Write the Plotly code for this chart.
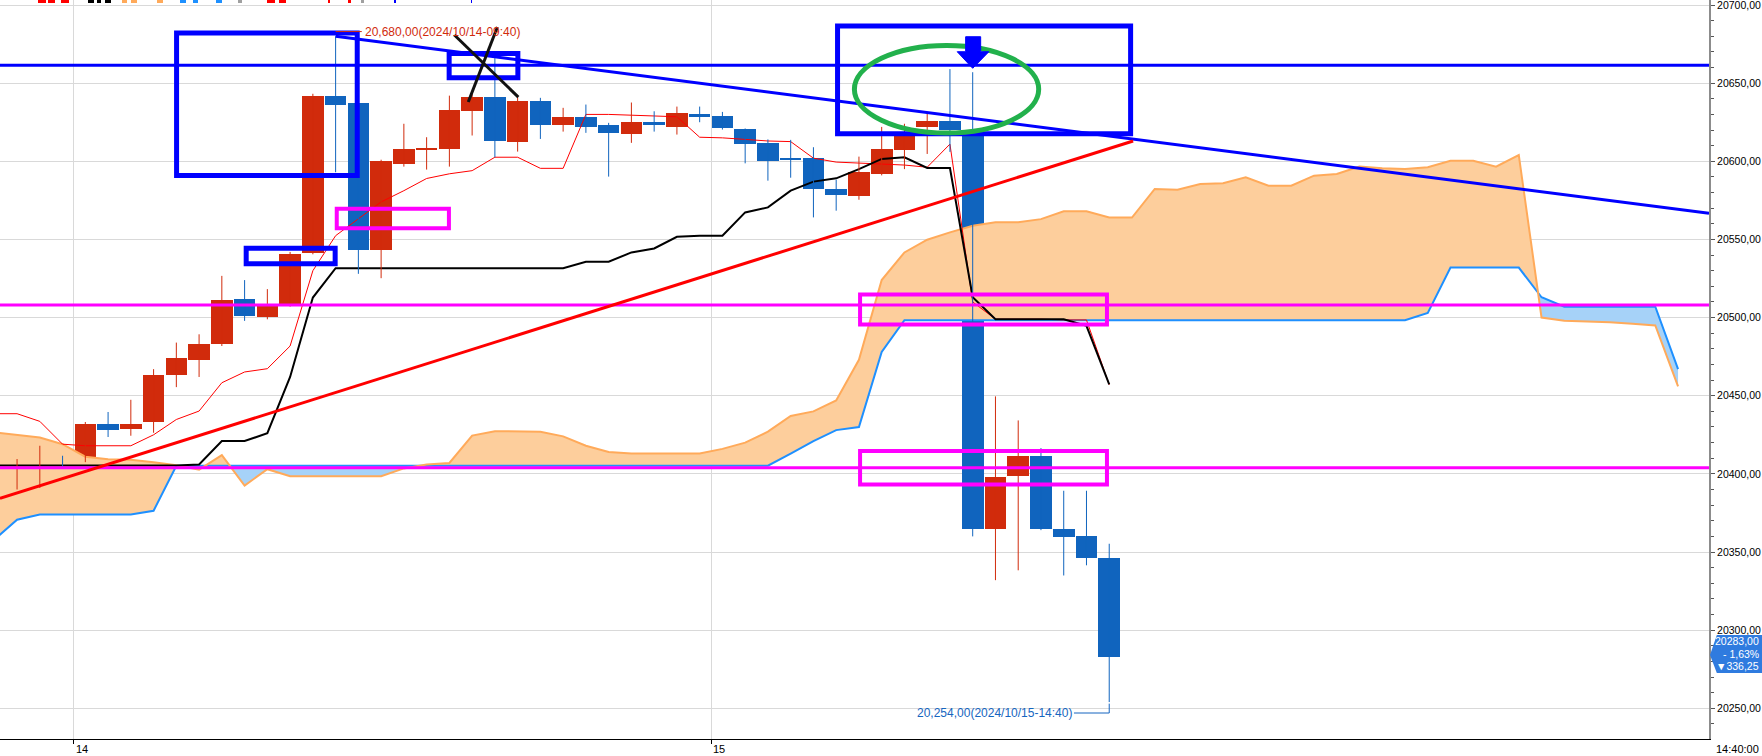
import plotly.graph_objects as go

# ---------------- data (15-min bars, index k) ----------------
bar_idx = list(range(-1, 49))
opens = [20410.6, 20396.3, 20403.0, 20409.5, 20408.0, 20432.0, 20429.0, 20433.0, 20463.0, 20473.0,
         20483.0, 20512.0, 20500.5, 20508.0, 20541.5, 20642.0, 20637.0, 20543.0, 20598.0, 20607.5,
         20608.0, 20632.0, 20641.0, 20612.6, 20638.7, 20623.0, 20628.4, 20623.3, 20617.7, 20625.4,
         20622.2, 20630.3, 20629.0, 20620.7, 20612.0, 20601.5, 20602.0, 20582.3, 20578.0, 20592.0,
         20607.3, 20621.8, 20625.5, 20620.0, 20364.5, 20398.4, 20411.6, 20365.0, 20360.4, 20346.0]
highs = [20412.0, 20409.5, 20418.0, 20411.6, 20433.2, 20439.6, 20447.4, 20467.0, 20484.0, 20489.3,
         20526.7, 20524.0, 20518.2, 20542.0, 20643.2, 20680.0, 20637.0, 20601.0, 20624.0, 20615.4,
         20642.0, 20644.0, 20666.0, 20641.0, 20640.6, 20634.2, 20636.3, 20624.6, 20637.6, 20632.0,
         20635.0, 20635.0, 20631.6, 20621.0, 20614.0, 20613.7, 20609.0, 20588.2, 20603.0, 20622.0,
         20624.0, 20631.0, 20659.0, 20657.0, 20449.6, 20434.2, 20416.5, 20389.2, 20389.2, 20355.3]
lows = [20394.0, 20390.0, 20391.0, 20404.4, 20407.5, 20423.6, 20424.4, 20426.3, 20455.5, 20462.0,
        20481.8, 20497.9, 20498.9, 20507.0, 20540.5, 20593.0, 20528.0, 20525.2, 20596.6, 20594.7,
        20596.6, 20616.5, 20602.5, 20606.2, 20614.3, 20619.0, 20618.2, 20590.2, 20611.8, 20619.0,
        20617.1, 20625.0, 20620.3, 20598.7, 20587.6, 20589.5, 20564.1, 20568.4, 20575.4, 20591.0,
        20595.0, 20604.7, 20606.0, 20360.0, 20332.0, 20338.3, 20364.0, 20335.0, 20341.5, 20254.0]
closes = [20396.3, 20402.7, 20410.0, 20408.0, 20432.0, 20428.3, 20432.0, 20463.5, 20474.0, 20483.0,
          20511.0, 20501.0, 20508.0, 20541.0, 20642.0, 20636.0, 20543.0, 20600.0, 20608.0, 20608.5,
          20633.0, 20641.0, 20613.0, 20638.7, 20623.5, 20628.4, 20622.2, 20618.4, 20625.4, 20623.3,
          20631.0, 20628.6, 20621.0, 20611.0, 20600.0, 20601.0, 20582.3, 20578.4, 20593.0, 20608.0,
          20618.2, 20625.6, 20620.2, 20365.0, 20398.2, 20411.6, 20364.5, 20359.4, 20346.0, 20283.0]

# conversion line (thin red) and base line (black)
conv_line = [20438.5, 20438.5, 20433.6, 20419.0, 20418.0, 20418.0, 20418.0, 20425.0, 20434.8, 20440.2,
             20458.3, 20465.2, 20467.3, 20481.8, 20530.0, 20552.4, 20563.0, 20574.0, 20581.2, 20589.0,
             20592.0, 20594.0, 20602.6, 20602.6, 20595.5, 20595.5, 20630.0, 20630.0, 20629.5, 20629.0,
             20628.5, 20615.4, 20615.0, 20614.0, 20613.0, 20612.6, 20602.0, 20599.5, 20599.0, 20598.5,
             20597.6, 20596.2, 20611.0, 20510.0, 20499.0, 20499.0, 20499.0, 20498.5, 20498.5, 20457.0]
base_line = [20405.3, 20405.3, 20405.3, 20405.3, 20405.3, 20405.3, 20405.3, 20405.3, 20405.3, 20406.0,
             20421.0, 20421.0, 20426.0, 20462.0, 20512.8, 20531.6, 20531.6, 20531.6, 20531.6, 20531.6,
             20531.6, 20531.6, 20531.6, 20531.6, 20531.6, 20531.6, 20535.7, 20535.7, 20541.7, 20544.2,
             20551.7, 20552.4, 20552.4, 20567.3, 20570.5, 20581.2, 20587.0, 20589.1, 20595.0, 20601.5,
             20602.6, 20595.7, 20595.7, 20513.0, 20499.0, 20499.0, 20499.0, 20498.9, 20494.7, 20457.3]

# leading spans (cloud), index k = -1 .. 73
cloud_idx = list(range(-1, 74))
span_orange = [20426.5, 20425.0, 20423.3, 20419.0, 20411.0, 20409.3, 20409.0, 20407.5, 20405.5, 20402.7,
               20412.0, 20392.5, 20403.0, 20398.5, 20398.5, 20398.5, 20398.5, 20398.5, 20403.5, 20406.0,
               20407.0, 20424.5, 20427.3, 20427.3, 20427.0, 20424.0, 20418.0, 20414.0, 20413.0, 20413.0,
               20413.0, 20413.0, 20416.0, 20420.0, 20427.0, 20437.0, 20440.0, 20447.0, 20473.0, 20524.0,
               20541.7, 20549.8, 20554.5, 20558.8, 20561.0, 20561.0, 20563.0, 20568.0, 20568.0, 20564.0,
               20564.0, 20582.3, 20581.8, 20585.5, 20586.0, 20589.7, 20584.4, 20584.4, 20590.8, 20591.9,
               20596.6, 20595.5, 20595.0, 20596.2, 20600.4, 20600.4, 20596.6, 20604.0, 20500.0, 20498.0,
               20497.5, 20497.0, 20496.0, 20495.0, 20456.0]
span_blue = [20358.0, 20370.7, 20374.0, 20374.0, 20374.0, 20374.0, 20374.0, 20376.4, 20405.2, 20405.2,
             20405.2, 20405.2, 20405.2, 20405.2, 20405.2, 20405.2, 20405.2, 20405.2, 20405.2, 20405.2,
             20405.2, 20405.2, 20405.2, 20405.2, 20405.2, 20405.2, 20405.2, 20405.2, 20405.2, 20405.2,
             20405.2, 20405.2, 20405.2, 20405.2, 20405.2, 20413.0, 20421.0, 20428.0, 20430.0, 20478.0,
             20498.3, 20498.3, 20498.3, 20498.3, 20498.3, 20498.3, 20498.3, 20498.3, 20498.3, 20498.3,
             20498.3, 20498.3, 20498.3, 20498.3, 20498.3, 20498.3, 20498.3, 20498.3, 20498.3, 20498.3,
             20498.3, 20498.3, 20498.3, 20503.0, 20532.0, 20532.0, 20532.0, 20532.0, 20513.0, 20507.0,
             20507.0, 20507.0, 20507.0, 20507.0, 20467.0]

# axis ticks
price_ticks = [20250, 20300, 20350, 20400, 20450, 20500, 20550, 20600, 20650, 20700]
price_tick_text = ["20250,00", "20300,00", "20350,00", "20400,00", "20450,00",
                   "20500,00", "20550,00", "20600,00", "20650,00", "20700,00"]
day_pos = [2.5, 30.5]
day_text = ["14", "15"]
last_time = "14:40:00"

# hand-drawn markup (data coords: bar index, price)
hline_blue = [20661.5]
hline_magenta = [20508.0, 20404.0]
trend_blue = [(14.0, 20680.0), (74.36, 20566.7)]
trend_red = [(-0.75, 20384.3), (49.05, 20613.0)]
blue_boxes = [(7.01, 20590.9, 14.95, 20682.1), (10.07, 20534.4, 13.98, 20544.3),
              (18.99, 20653.5, 22.01, 20668.9), (36.06, 20617.6, 48.94, 20686.6)]
magenta_boxes = [(14.05, 20557.1, 18.98, 20569.7), (37.05, 20495.6, 47.9, 20514.8),
                 (37.05, 20393.2, 47.9, 20414.6)]
green_ellipse = (36.8, 20618.1, 44.9, 20674.1)
black_strokes = [((19.83, 20637.9), (21.11, 20685.9)), ((19.22, 20680.8), (22.03, 20641.1))]
arrow_down = [(41.69, 20679.7), (42.35, 20679.7), (42.35, 20670.1), (42.71, 20670.1),
              (42.0, 20659.5), (41.32, 20670.1), (41.69, 20670.1)]
high_label = "20,680,00(2024/10/14-09:40)"
high_label_price = 20683.0
low_label = "20,254,00(2024/10/15-14:40)"
low_label_price = 20247.0
last_box = ["20283,00", "- 1,63%", "▼336,25"]
# clipped legend strip at the very top (pixel x-ranges and colours)
legend_bits = [(38, 46, "#FF0000"), (48, 55, "#FF0000"), (61, 69, "#FF0000"),
               (88, 94, "#000000"), (97, 101, "#000000"), (105, 111, "#000000"),
               (122, 127, "#FFAA5A"), (131, 137, "#FFAA5A"), (157, 163, "#FFAA5A"),
               (180, 186, "#1E90FF"), (193, 198, "#1E90FF"), (216, 222, "#1E90FF"),
               (238, 242, "#A0A0A0"), (267, 275, "#FF0000"), (279, 286, "#FF0000"),
               (328, 330, "#FF0000"), (348, 351, "#FF0000"), (361, 364, "#A0A0A0"),
               (394, 396, "#0000FF"), (471, 472, "#0000FF")]

# ---------------- colours ----------------
UP = "#D12B0C"
DOWN = "#1064BE"
ORANGE = "#FFAA5A"
PEACH = "#FDCE9C"
SKY = "#1E90FF"
LIGHTSKY = "#A6D2F8"
FONT = "Liberation Sans, Arial, sans-serif"
PW, PH = 1709, 739

fig = go.Figure()

# ---------------- cloud fill polygons ----------------
def split_regions(xs, a, b):
    regions = []
    top, bot = [], []
    prev = None
    for i in range(len(xs)):
        d = a[i] - b[i]
        if prev is not None:
            pd_ = prev[1]
            if (pd_ > 0 and d < 0) or (pd_ < 0 and d > 0):
                t = pd_ / (pd_ - d)
                xc = xs[i - 1] + t * (xs[i] - xs[i - 1])
                yc = a[i - 1] + t * (a[i] - a[i - 1])
                top.append((xc, yc)); bot.append((xc, yc))
                regions.append((pd_ > 0, top, bot))
                top, bot = [(xc, yc)], [(xc, yc)]
        top.append((xs[i], a[i])); bot.append((xs[i], b[i]))
        if d != 0 or prev is None:
            prev = (i, d)
    regions.append((prev[1] > 0, top, bot))
    return regions

for pos, top, bot in split_regions(cloud_idx, span_orange, span_blue):
    pts = top + bot[::-1]
    fig.add_trace(go.Scatter(x=[p[0] for p in pts], y=[p[1] for p in pts], mode="lines",
                             fill="toself", fillcolor=PEACH if pos else LIGHTSKY,
                             line=dict(width=0), hoverinfo="skip", showlegend=False))

fig.add_trace(go.Scatter(x=cloud_idx, y=span_blue, mode="lines", line=dict(color=SKY, width=2),
                         showlegend=False))
fig.add_trace(go.Scatter(x=cloud_idx, y=span_orange, mode="lines", line=dict(color=ORANGE, width=2),
                         showlegend=False))

fig.add_trace(go.Scatter(x=bar_idx, y=conv_line, mode="lines", line=dict(color="#FF0000", width=1),
                         showlegend=False))
fig.add_trace(go.Scatter(x=bar_idx, y=base_line, mode="lines", line=dict(color="#000000", width=2),
                         showlegend=False))

# ---------------- candles ----------------
for up, col in ((True, UP), (False, DOWN)):
    wx, wy = [], []
    for k, o, h, l, c in zip(bar_idx, opens, highs, lows, closes):
        if (c >= o) == up:
            wx += [k, k, None]
            wy += [l, h, None]
    fig.add_trace(go.Scatter(x=wx, y=wy, mode="lines", line=dict(color=col, width=1),
                             showlegend=False, hoverinfo="skip"))
body_base = [min(o, c) for o, c in zip(opens, closes)]
body_len = [max(abs(c - o), 1.0) for o, c in zip(opens, closes)]
body_col = [UP if c >= o else DOWN for o, c in zip(opens, closes)]
fig.add_trace(go.Bar(x=bar_idx, y=body_len, base=body_base, width=0.95,
                     marker=dict(color=body_col, line=dict(width=0)), showlegend=False))

# ---------------- markup shapes ----------------
shapes = []
for p in hline_blue:
    shapes.append(dict(type="line", xref="paper", x0=0, x1=1, yref="y", y0=p, y1=p,
                       line=dict(color="#0000FF", width=3)))
for p in hline_magenta:
    shapes.append(dict(type="line", xref="paper", x0=0, x1=1, yref="y", y0=p, y1=p,
                       line=dict(color="#FF00FF", width=3)))
for (x0, y0), (x1, y1) in [trend_blue]:
    shapes.append(dict(type="line", x0=x0, y0=y0, x1=x1, y1=y1, line=dict(color="#0000FF", width=3)))
for (x0, y0), (x1, y1) in [trend_red]:
    shapes.append(dict(type="line", x0=x0, y0=y0, x1=x1, y1=y1, line=dict(color="#FF0000", width=3)))
for x0, y0, x1, y1 in blue_boxes:
    shapes.append(dict(type="rect", x0=x0, y0=y0, x1=x1, y1=y1, line=dict(color="#0000FF", width=5)))
for x0, y0, x1, y1 in magenta_boxes:
    shapes.append(dict(type="rect", x0=x0, y0=y0, x1=x1, y1=y1, line=dict(color="#FF00FF", width=4)))
x0, y0, x1, y1 = green_ellipse
shapes.append(dict(type="circle", x0=x0, y0=y0, x1=x1, y1=y1, line=dict(color="#22B14C", width=5)))
for (x0, y0), (x1, y1) in black_strokes:
    shapes.append(dict(type="line", x0=x0, y0=y0, x1=x1, y1=y1, line=dict(color="#111111", width=3)))
path = "M " + " L ".join(f"{x},{y}" for x, y in arrow_down) + " Z"
shapes.append(dict(type="path", path=path, fillcolor="#0000FF", line=dict(color="#0000FF", width=1)))

# high / low labels connectors
shapes.append(dict(type="line", x0=14.0, y0=high_label_price, x1=15.15, y1=high_label_price,
                   line=dict(color="#D12B0C", width=1)))
lk = bar_idx[-1]
shapes.append(dict(type="line", x0=46.45, y0=low_label_price, x1=lk, y1=low_label_price,
                   line=dict(color="#1565C0", width=1)))
shapes.append(dict(type="line", x0=lk, y0=low_label_price, x1=lk, y1=lows[-1] - 1,
                   line=dict(color="#1565C0", width=1)))

# clipped legend strip
for a, b, col in legend_bits:
    shapes.append(dict(type="rect", xref="paper", yref="paper", x0=a / PW, x1=b / PW,
                       y0=(PH - 3) / PH, y1=1.0, fillcolor=col, line=dict(width=0), layer="above"))

# current price box on the axis
bx0, bx1 = 1710 / PW, 1762 / PW
by0, by1 = (PH - 673) / PH, (PH - 635) / PH
bym = (PH - 655) / PH
shapes.append(dict(type="path", xref="paper", yref="paper",
                   path=f"M {bx0 + 0.004},{by1} L {bx1},{by1} L {bx1},{by0} L {bx0 + 0.004},{by0} "
                        f"L {bx0},{bym} Z",
                   fillcolor="#2F7BDF", line=dict(width=0), layer="above"))

annotations = []
annotations.append(dict(x=15.2, y=high_label_price, xref="x", yref="y", text=high_label, showarrow=False,
                        xanchor="left", yanchor="middle", font=dict(family=FONT, size=12, color="#D12B0C")))
annotations.append(dict(x=46.45, y=low_label_price, xref="x", yref="y", text=low_label, showarrow=False,
                        xanchor="right", yanchor="middle", font=dict(family=FONT, size=12, color="#1565C0")))
for pos, txt in zip(day_pos, day_text):
    annotations.append(dict(x=pos, y=0, xref="x", yref="paper", text=txt, showarrow=False,
                            xanchor="left", yanchor="top", xshift=0, yshift=-2,
                            font=dict(family=FONT, size=11, color="#000000")))
annotations.append(dict(x=1761 / PW, y=0, xref="paper", yref="paper", text=last_time, showarrow=False,
                        xanchor="right", yanchor="top", yshift=-2,
                        font=dict(family=FONT, size=11, color="#000000")))
for i, t in enumerate(last_box):
    annotations.append(dict(x=1761 / PW, y=(PH - (641 + 12.5 * i)) / PH, xref="paper", yref="paper", text=t,
                            showarrow=False, xanchor="right", yanchor="middle",
                            font=dict(family=FONT, size=10.5, color="#FFFFFF")))

fig.update_layout(
    width=1762, height=756,
    margin=dict(l=0, r=1762 - PW, t=0, b=756 - PH, autoexpand=False),
    plot_bgcolor="#FFFFFF", paper_bgcolor="#FFFFFF",
    showlegend=False, shapes=shapes, annotations=annotations,
    bargap=0, font=dict(family=FONT),
)
fig.update_xaxes(range=[-0.75, 74.36], tickvals=day_pos, ticktext=["", ""], showgrid=True,
                 gridcolor="#D9D9D9", gridwidth=1, ticks="outside", ticklen=4, tickcolor="#000000",
                 showline=True, linecolor="#000000", linewidth=1, zeroline=False, automargin=False)
fig.update_yaxes(side="right", range=[20230.37, 20703.2], tickvals=price_ticks, ticktext=price_tick_text,
                 showgrid=True, gridcolor="#D9D9D9", gridwidth=1, ticks="outside", ticklen=4,
                 tickcolor="#555555", showline=True, linecolor="#8C8C8C", linewidth=2, zeroline=False,
                 automargin=False, ticklabeloverflow="allow", ticklabelstandoff=0,
                 tickfont=dict(family=FONT, size=10.5, color="#000000"),
                 minor=dict(dtick=10, ticks="outside", ticklen=3, tickcolor="#555555", showgrid=False))

fig.write_html("out.html", config={"displayModeBar": False},
               post_script="document.body.style.margin='0px';document.body.style.overflow='hidden';")
